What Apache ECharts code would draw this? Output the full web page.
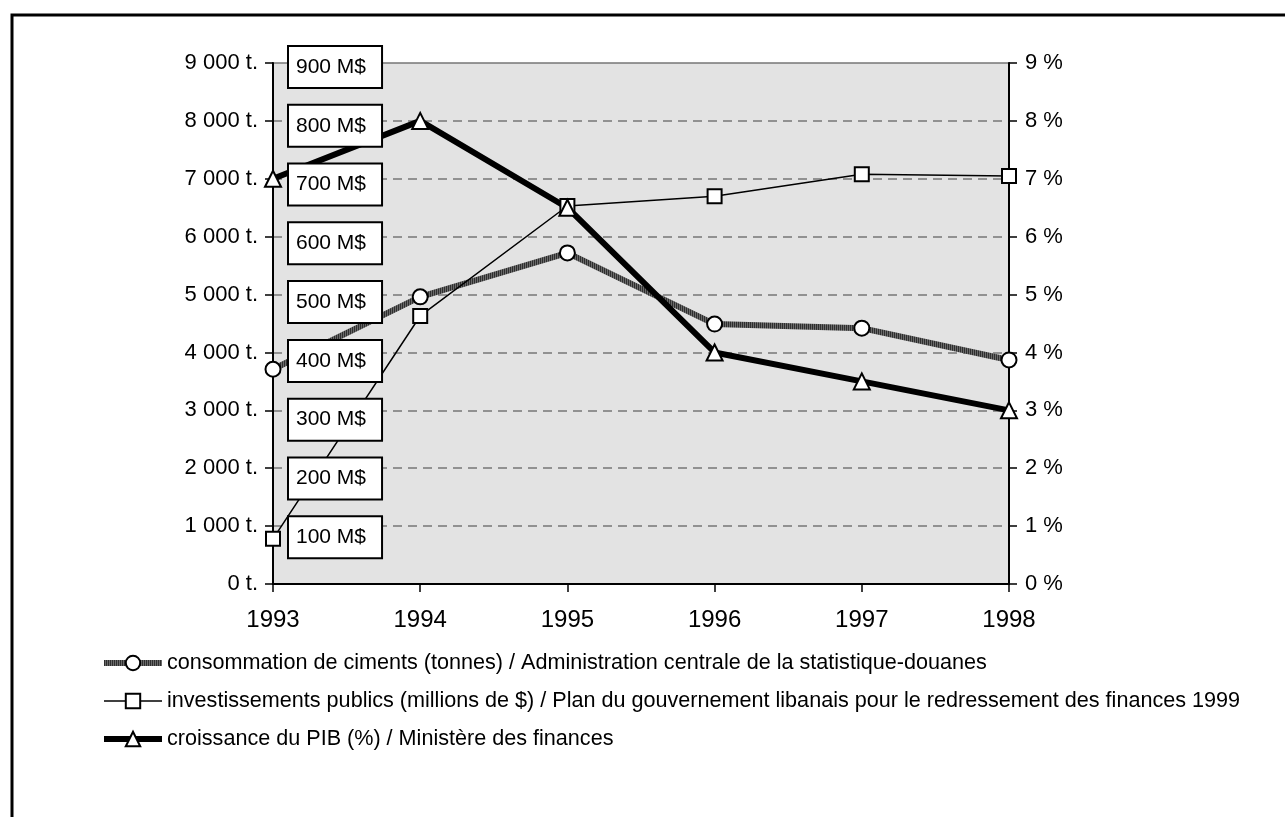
<!DOCTYPE html>
<html>
<head>
<meta charset="utf-8">
<script src="https://cdn.jsdelivr.net/npm/echarts@6/dist/echarts.min.js"></script>
<style>
  html, body { margin: 0; padding: 0; background: #fff; }
  #chart { width: 1285px; height: 817px; }
</style>
</head>
<body>
<div id="chart"></div>
<script>
// Data
const years = ['1993', '1994', '1995', '1996', '1997', '1998'];
const cement = [3710, 4960, 5720, 4490, 4420, 3870];      // tonnes
const invest = [78, 463, 653, 670, 708, 705];             // millions de $
const gdp = [7, 8, 6.5, 4, 3.5, 3];                        // %

const tonneTicks = ['0 t.', '1 000 t.', '2 000 t.', '3 000 t.', '4 000 t.', '5 000 t.', '6 000 t.', '7 000 t.', '8 000 t.', '9 000 t.'];
const dollarTicks = ['', '100 M$', '200 M$', '300 M$', '400 M$', '500 M$', '600 M$', '700 M$', '800 M$', '900 M$'];

const names = [
    'consommation de ciments (tonnes) / Administration centrale de la statistique-douanes',
    'investissements publics (millions de $) / Plan du gouvernement libanais pour le redressement des finances 1999',
    'croissance du PIB (%) / Ministère des finances'
];

const FONT = '"Liberation Sans", Arial, sans-serif';

// striped grey fill for the cement line (like the old Excel pattern)
const stripe = document.createElement('canvas');
stripe.width = 2; stripe.height = 2;
const sctx = stripe.getContext('2d');
sctx.fillStyle = '#2e2e2e'; sctx.fillRect(0, 0, 1, 2);
sctx.fillStyle = '#6a6a6a'; sctx.fillRect(1, 0, 1, 2);
const cementColor = { image: stripe, repeat: 'repeat' };

const chart = echarts.init(document.getElementById('chart'));

const option = {
    backgroundColor: '#fff',
    animation: false,
    textStyle: { fontFamily: FONT, color: '#000' },
    graphic: [{
        type: 'rect',
        shape: { x: 12, y: 15, width: 1300, height: 900 },
        style: { fill: 'none', stroke: '#000', lineWidth: 3 },
        silent: true
    }],
    grid: [{
        left: 273, top: 63, width: 736, height: 521,
        show: true,
        backgroundColor: '#e3e3e3',
        borderColor: '#777',
        borderWidth: 1.5
    }, {
        // box labels for millions de $ are spaced a little wider than the ticks
        left: 273, top: 67, width: 736, height: 529
    }],
    legend: {
        orient: 'vertical',
        left: 101,
        top: 652,
        padding: 0,
        itemWidth: 58,
        itemHeight: 18,
        itemGap: 16,
        textStyle: { fontFamily: FONT, fontSize: 21.6, color: '#000' },
        data: [
            { name: names[0], lineStyle: { width: 6, color: cementColor } },
            { name: names[1], lineStyle: { width: 1.5, color: '#000' } },
            { name: names[2], lineStyle: { width: 6, color: '#000' } }
        ]
    },
    xAxis: [{
        type: 'category',
        data: years,
        boundaryGap: false,
        axisLine: { lineStyle: { color: '#000', width: 2 } },
        axisTick: { length: 8, lineStyle: { color: '#000', width: 1.5 } },
        axisLabel: { fontSize: 24, color: '#000', margin: 24, fontFamily: FONT },
        splitLine: { show: false }
    }, {
        type: 'category',
        gridIndex: 1,
        data: years,
        show: false
    }],
    yAxis: [{
        type: 'value',
        position: 'left',
        min: 0, max: 9000, interval: 1000,
        axisLine: { show: true, lineStyle: { color: '#000', width: 2 } },
        axisTick: { show: true, length: 8, lineStyle: { color: '#000', width: 1.5 } },
        axisLabel: {
            fontSize: 22, color: '#000', margin: 15, fontFamily: FONT,
            formatter: v => tonneTicks[Math.round(v / 1000)]
        },
        splitLine: { show: true, showMaxLine: false, lineStyle: { color: '#777', width: 1.5, type: [9, 6] } }
    }, {
        type: 'value',
        position: 'right',
        min: 0, max: 9, interval: 1,
        axisLine: { show: true, lineStyle: { color: '#000', width: 2 } },
        axisTick: { show: true, length: 8, lineStyle: { color: '#000', width: 1.5 } },
        axisLabel: {
            fontSize: 22, color: '#000', margin: 16, fontFamily: FONT,
            formatter: '{value} %'
        },
        splitLine: { show: false }
    }, {
        // investments share the tonnes scale: 100 M$ = 1 000 t.
        type: 'value',
        position: 'left',
        min: 0, max: 900, interval: 100,
        show: false
    }, {
        type: 'value',
        gridIndex: 1,
        position: 'left',
        min: 0, max: 900, interval: 100,
        z: 10,
        axisLine: { show: false },
        axisTick: { show: false },
        splitLine: { show: false },
        axisLabel: {
            inside: true,
            showMinLabel: false,
            margin: 16,
            fontSize: 21, color: '#000', fontFamily: FONT,
            align: 'left',
            backgroundColor: '#fff',
            borderColor: '#000',
            borderWidth: 2,
            padding: [7, 15, 12, 7],
            formatter: v => dollarTicks[Math.round(v / 100)]
        }
    }],
    series: [{
        name: names[0],
        type: 'line',
        yAxisIndex: 0,
        data: cement,
        symbol: 'circle',
        symbolSize: 15,
        lineStyle: { color: cementColor, width: 6 },
        itemStyle: { color: '#fff', borderColor: '#000', borderWidth: 2 }
    }, {
        name: names[1],
        type: 'line',
        yAxisIndex: 2,
        data: invest,
        symbol: 'rect',
        symbolSize: 14,
        lineStyle: { color: '#000', width: 1.5 },
        itemStyle: { color: '#fff', borderColor: '#000', borderWidth: 2 }
    }, {
        name: names[2],
        type: 'line',
        yAxisIndex: 1,
        data: gdp,
        symbol: 'triangle',
        symbolSize: 16,
        lineStyle: { color: '#000', width: 6 },
        itemStyle: { color: '#fff', borderColor: '#000', borderWidth: 2 }
    }]
};

chart.setOption(option);
</script>
</body>
</html>
